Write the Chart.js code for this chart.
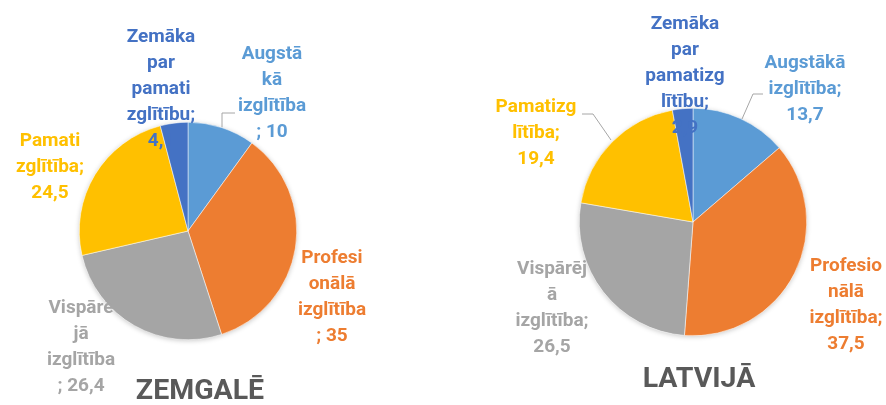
<!DOCTYPE html>
<html lang="lv">
<head>
    <meta charset="UTF-8">
    <title>Iedzīvotāju izglītības līmenis: Zemgalē un Latvijā</title>
    <script src="https://cdn.jsdelivr.net/npm/chart.js"></script>
    <style>
        body {
            margin: 0;
            background: #fff;
        }
        .wrap {
            position: relative;
            width: 886px;
            height: 405px;
        }
        .pie {
            position: absolute;
            top: 0;
            width: 443px;
            height: 405px;
        }
    </style>
</head>
<body>
    <div class="wrap">
        <div class="pie" style="left:0"><canvas id="zemgale" width="443" height="405"></canvas></div>
        <div class="pie" style="left:443px"><canvas id="latvija" width="443" height="405"></canvas></div>
    </div>

    <script>
        // dati
        const categories = ['Augstākā izglītība', 'Profesionālā izglītība', 'Vispārējā izglītība', 'Pamatizglītība', 'Zemāka par pamatizglītību'];
        const zemgaleValues = [10, 35, 26.4, 24.5, 4.1];
        const latvijaValues = [13.7, 37.5, 26.5, 19.4, 2.9];
        const colors = ['#5B9BD5', '#ED7D31', '#A5A5A5', '#FFC000', '#4472C4'];

        // izkārtojums: etiķešu centri pret apļa centru, teksta platums, vadlīnijas
        const zemgaleLayout = {
            title: 'ZEMGALĒ', titleAt: [200, 392],
            padding: { left: 79, right: 146, top: 122, bottom: 65 },
            labelAt: [[84, -138], [144, 66], [-107, 116], [-138, -64], [-27, -142]],
            labelW: [69, 69, 69, 69, 68.6],
            leaders: [[[34, -104], [34, -118], [47, -118]]]
        };
        const latvijaLayout = {
            title: 'LATVIJĀ', titleAt: [256, 380],
            padding: { left: 136, right: 79, top: 108, bottom: 69 },
            labelAt: [[112, -133], [153, 83], [-141, 86], [-157, -89], [-8, -146]],
            labelW: [82, 77, 76, 82, 82],
            leaders: [[[49, -103], [60, -128], [70, -128]], [[-82, -82], [-100, -108], [-111, -108]]]
        };

        const labelFont = 'bold 19px Roboto';
        const titleFont = 'bold 28.5px Roboto';

        const fmt = v => String(v).replace('.', ',');

        // etiķetes teksta dalīšana rindās (līdzīgi kā Excel)
        function wrapLabel(ctx, name, value, maxW) {
            const lines = [];
            const fits = s => ctx.measureText(s).width <= maxW;
            let cur = '', locked = false;
            name.split(' ').forEach(word => {
                const joined = cur ? cur + ' ' + word : word;
                if (!locked && fits(joined)) { cur = joined; return; }
                if (cur) lines.push(cur);
                cur = ''; locked = false;
                if (fits(word)) { cur = word; return; }
                let rest = word;
                while (!fits(rest)) {
                    let n = 1;
                    while (n < rest.length && fits(rest.slice(0, n + 1))) n++;
                    lines.push(rest.slice(0, n));
                    rest = rest.slice(n);
                }
                cur = rest; locked = true;
            });
            if (fits(cur + ';')) cur += ';';
            else { lines.push(cur); cur = ';'; locked = false; }
            const v = fmt(value);
            if (!locked && fits(cur + ' ' + v)) cur += ' ' + v;
            else { lines.push(cur); cur = v; }
            lines.push(cur);
            return lines;
        }

        const pieLabels = {
            id: 'pieLabels',
            beforeDatasetsDraw(chart, args, opts) {
                // ēna zem apļa
                const arc = chart.getDatasetMeta(0).data[0];
                const ctx = chart.ctx;
                ctx.save();
                ctx.shadowColor = 'rgba(0,0,0,0.22)';
                ctx.shadowBlur = 5;
                ctx.shadowOffsetY = 1;
                ctx.fillStyle = '#fff';
                ctx.beginPath();
                ctx.arc(arc.x, arc.y, arc.outerRadius, 0, Math.PI * 2);
                ctx.fill();
                ctx.restore();
            },
            afterDatasetsDraw(chart, args, opts) {
                const ctx = chart.ctx;
                const layout = opts.layout;
                const meta = chart.getDatasetMeta(0);
                const cx = meta.data[0].x, cy = meta.data[0].y;
                const values = chart.data.datasets[0].data;
                ctx.save();
                // vadlīnijas
                ctx.strokeStyle = '#A6A6A6';
                ctx.lineWidth = 1;
                layout.leaders.forEach(pts => {
                    ctx.beginPath();
                    pts.forEach((p, i) => {
                        if (i === 0) ctx.moveTo(cx + p[0], cy + p[1]);
                        else ctx.lineTo(cx + p[0], cy + p[1]);
                    });
                    ctx.stroke();
                });
                ctx.font = labelFont;
                ctx.textAlign = 'center';
                ctx.textBaseline = 'middle';
                const lineH = 26;
                chart.data.labels.forEach((name, i) => {
                    const lines = wrapLabel(ctx, name, values[i], layout.labelW[i]);
                    const x = cx + layout.labelAt[i][0];
                    const y0 = cy + layout.labelAt[i][1] - (lines.length - 1) * lineH / 2;
                    ctx.fillStyle = colors[i];
                    lines.forEach((t, k) => ctx.fillText(t, x, y0 + k * lineH));
                });
                // virsraksts
                ctx.fillStyle = '#595959';
                ctx.font = titleFont;
                ctx.fillText(layout.title, layout.titleAt[0], layout.titleAt[1]);
                ctx.restore();
            }
        };

        function makePie(id, values, layout) {
            return new Chart(document.getElementById(id), {
                type: 'pie',
                data: {
                    labels: categories,
                    datasets: [{
                        data: values,
                        backgroundColor: colors,
                        borderColor: '#fff',
                        borderWidth: 0.5
                    }]
                },
                options: {
                    responsive: false,
                    animation: false,
                    layout: { padding: layout.padding },
                    plugins: {
                        legend: { display: false },
                        tooltip: { enabled: false },
                        pieLabels: { layout: layout }
                    }
                },
                plugins: [pieLabels]
            });
        }

        makePie('zemgale', zemgaleValues, zemgaleLayout);
        makePie('latvija', latvijaValues, latvijaLayout);
    </script>
</body>
</html>
